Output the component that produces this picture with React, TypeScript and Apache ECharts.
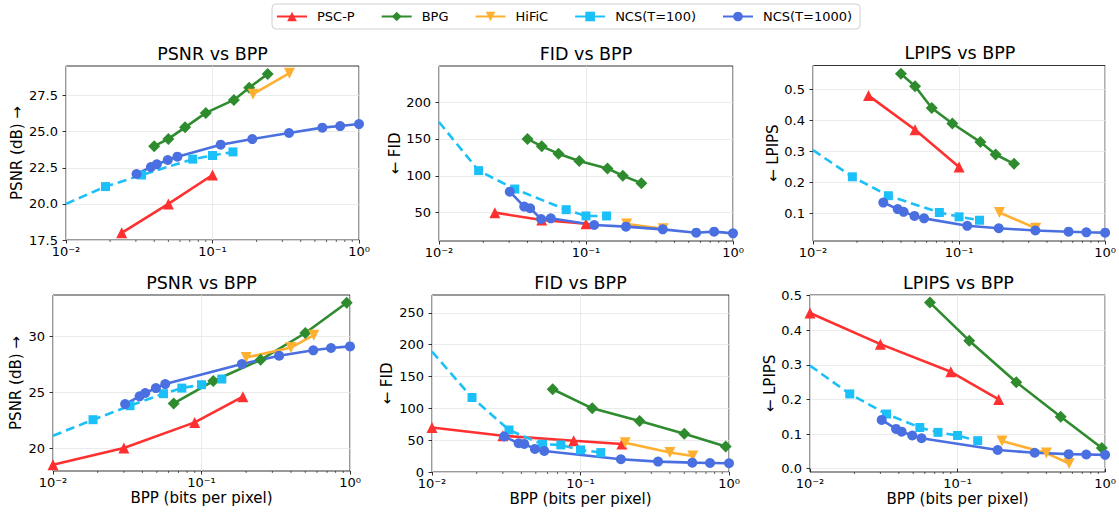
import React, { useEffect, useRef } from 'react';
import * as echarts from 'echarts';

// ---------------- DATA ----------------
const METHODS = ['PSC-P', 'BPG', 'HiFiC', 'NCS(T=100)', 'NCS(T=1000)'];

// Top row
const T_PSCP_BPP = [0.024, 0.05, 0.1];
const T_PSCP_PSNR = [18.0, 20.0, 22.0];
const T_PSCP_FID = [50, 40, 35];
const T_PSCP_LPIPS = [0.48, 0.37, 0.25];

const T_BPG_BPP = [0.04, 0.05, 0.065, 0.09, 0.14, 0.178, 0.238];
const T_BPG_PSNR = [24.0, 24.5, 25.3, 26.3, 27.2, 28.05, 29.0];
const T_BPG_FID = [150, 140, 130, 120, 110, 100, 90];
const T_BPG_LPIPS = [0.55, 0.51, 0.44, 0.39, 0.33, 0.29, 0.26];

const T_HIFIC_BPP = [0.189, 0.335];
const T_HIFIC_PSNR = [27.6, 29.05];
const T_HIFIC_FID = [34.5, 28];
const T_HIFIC_LPIPS = [0.103, 0.052];

const T_NCS100_BPP = [0.01, 0.0186, 0.0328, 0.0733, 0.1, 0.138];
const T_NCS100_PSNR = [20.0, 21.2, 22.0, 23.1, 23.35, 23.6];
const T_NCS100_FID = [173, 107, 82, 54, 45.5, 45.5];
const T_NCS100_LPIPS = [0.304, 0.218, 0.157, 0.103, 0.089, 0.078];

const T_NCS1000_BPP = [0.0303, 0.038, 0.0417, 0.0495, 0.0576, 0.1137, 0.187, 0.333, 0.562, 0.744, 1.0];
const T_NCS1000_PSNR = [22.07, 22.55, 22.74, 23.04, 23.27, 24.1, 24.49, 24.91, 25.28, 25.39, 25.53];
const T_NCS1000_FID = [78.5, 58.2, 55.9, 41.4, 42.3, 33.2, 31, 27.3, 22.8, 24.2, 21.9];
const T_NCS1000_LPIPS = [0.135, 0.114, 0.105, 0.092, 0.084, 0.06, 0.052, 0.045, 0.041, 0.039, 0.038];

// Bottom row
const B_PSCP_BPP = [0.01, 0.03, 0.09, 0.19];
const B_PSCP_PSNR = [18.5, 20.0, 22.3, 24.6];
const B_PSCP_FID = [70, 57, 49, 44];
const B_PSCP_LPIPS = [0.45, 0.36, 0.28, 0.2];

const B_BPG_BPP = [0.065, 0.12, 0.25, 0.5, 0.95];
const B_BPG_PSNR = [24.0, 26.0, 27.9, 30.3, 33.0];
const B_BPG_FID = [130, 100, 80, 60, 40];
const B_BPG_LPIPS = [0.48, 0.37, 0.25, 0.15, 0.06];

const B_HIFIC_BPP = [0.2, 0.4, 0.57];
const B_HIFIC_PSNR = [28.1, 29.0, 30.1];
const B_HIFIC_FID = [46, 30.5, 25];
const B_HIFIC_LPIPS = [0.08, 0.045, 0.015];

const B_NCS100_BPP = [0.01, 0.0186, 0.033, 0.0555, 0.0737, 0.1, 0.137];
const B_NCS100_PSNR = [21.1, 22.54, 23.79, 24.87, 25.37, 25.67, 26.18];
const B_NCS100_FID = [189, 117, 66, 43.6, 42.5, 34.7, 30.5];
const B_NCS100_LPIPS = [0.298, 0.216, 0.158, 0.119, 0.105, 0.096, 0.081];

const B_NCS1000_BPP = [0.0306, 0.0383, 0.0418, 0.0493, 0.057, 0.187, 0.333, 0.566, 0.745, 1.0];
const B_NCS1000_PSNR = [23.94, 24.63, 24.93, 25.37, 25.73, 27.52, 28.27, 28.75, 28.96, 29.1];
const B_NCS1000_FID = [55.7, 45.2, 44.1, 36.2, 33.1, 20, 16.3, 14.7, 14.2, 13.7];
const B_NCS1000_LPIPS = [0.141, 0.115, 0.107, 0.096, 0.088, 0.054, 0.046, 0.042, 0.041, 0.04];

// Tick values
const X_MIN = 0.01;
const X_MAX = 1;
const X_MINOR = [0.02, 0.03, 0.04, 0.05, 0.06, 0.07, 0.08, 0.09, 0.2, 0.3, 0.4, 0.5, 0.6, 0.7, 0.8, 0.9];
const Y_TICKS_T_PSNR = [17.5, 20.0, 22.5, 25.0, 27.5];
const Y_TICKS_T_FID = [50, 100, 150, 200];
const Y_TICKS_T_LPIPS = [0.1, 0.2, 0.3, 0.4, 0.5];
const Y_TICKS_B_PSNR = [20, 25, 30];
const Y_TICKS_B_FID = [0, 50, 100, 150, 200, 250];
const Y_TICKS_B_LPIPS = [0.0, 0.1, 0.2, 0.3, 0.4, 0.5];

// ---------------- STYLE ----------------
const FONT = 'DejaVu Sans';
const STYLE: Record<string, any> = {
  'PSC-P': { color: '#ff3030', symbol: 'triangle', size: 11, rotate: 0, dash: 'solid' },
  BPG: { color: '#2e8b2e', symbol: 'diamond', size: 12, rotate: 0, dash: 'solid' },
  HiFiC: { color: '#ffb030', symbol: 'triangle', size: 11, rotate: 180, dash: 'solid' },
  'NCS(T=100)': { color: '#1cc0f8', symbol: 'rect', size: 9, rotate: 0, dash: [9, 5] },
  'NCS(T=1000)': { color: '#4a6fe0', symbol: 'circle', size: 10, rotate: 0, dash: 'solid' },
};

const SUP: Record<string, string> = {
  '-': '⁻', '0': '⁰', '1': '¹', '2': '²', '3': '³', '4': '⁴', '5': '⁵', '6': '⁶', '7': '⁷', '8': '⁸', '9': '⁹',
};
const logLabel = (v: number) => {
  const e = Math.round(Math.log10(v));
  return '10' + String(e).split('').map((c) => SUP[c]).join('');
};

const fmt1 = (v: number) => v.toFixed(1);
const fmt0 = (v: number) => String(Math.round(v));

const PANELS = [
  {
    grid: { left: 66, top: 66, width: 293, height: 174 },
    title: 'PSNR vs BPP', yName: 'PSNR (dB) →', nameGap: 42,
    yMin: 17.5, yMax: 29.55, interval: 2.5, ticks: Y_TICKS_T_PSNR, fmt: fmt1, xName: '',
    series: [
      [T_PSCP_BPP, T_PSCP_PSNR], [T_BPG_BPP, T_BPG_PSNR], [T_HIFIC_BPP, T_HIFIC_PSNR],
      [T_NCS100_BPP, T_NCS100_PSNR], [T_NCS1000_BPP, T_NCS1000_PSNR],
    ],
  },
  {
    grid: { left: 439, top: 66, width: 294, height: 175 },
    title: 'FID vs BPP', yName: '← FID', nameGap: 37,
    yMin: 11.5, yMax: 249, interval: 50, ticks: Y_TICKS_T_FID, fmt: fmt0, xName: '',
    series: [
      [T_PSCP_BPP, T_PSCP_FID], [T_BPG_BPP, T_BPG_FID], [T_HIFIC_BPP, T_HIFIC_FID],
      [T_NCS100_BPP, T_NCS100_FID], [T_NCS1000_BPP, T_NCS1000_FID],
    ],
  },
  {
    grid: { left: 813, top: 65.5, width: 294, height: 175.5 },
    title: 'LPIPS vs BPP', yName: '← LPIPS', nameGap: 32,
    yMin: 0.011, yMax: 0.577, interval: 0.1, ticks: Y_TICKS_T_LPIPS, fmt: fmt1, xName: '',
    series: [
      [T_PSCP_BPP, T_PSCP_LPIPS], [T_BPG_BPP, T_BPG_LPIPS], [T_HIFIC_BPP, T_HIFIC_LPIPS],
      [T_NCS100_BPP, T_NCS100_LPIPS], [T_NCS1000_BPP, T_NCS1000_LPIPS],
    ],
  },
  {
    grid: { left: 53, top: 295, width: 297, height: 176 },
    title: 'PSNR vs BPP', yName: 'PSNR (dB) →', nameGap: 30,
    yMin: 17.95, yMax: 33.7, interval: 5, ticks: Y_TICKS_B_PSNR, fmt: fmt0, xName: 'BPP (bits per pixel)',
    series: [
      [B_PSCP_BPP, B_PSCP_PSNR], [B_BPG_BPP, B_BPG_PSNR], [B_HIFIC_BPP, B_HIFIC_PSNR],
      [B_NCS100_BPP, B_NCS100_PSNR], [B_NCS1000_BPP, B_NCS1000_PSNR],
    ],
  },
  {
    grid: { left: 432, top: 295, width: 297, height: 177 },
    title: 'FID vs BPP', yName: '← FID', nameGap: 38,
    yMin: 0, yMax: 278, interval: 50, ticks: Y_TICKS_B_FID, fmt: fmt0, xName: 'BPP (bits per pixel)',
    series: [
      [B_PSCP_BPP, B_PSCP_FID], [B_BPG_BPP, B_BPG_FID], [B_HIFIC_BPP, B_HIFIC_FID],
      [B_NCS100_BPP, B_NCS100_FID], [B_NCS1000_BPP, B_NCS1000_FID],
    ],
  },
  {
    grid: { left: 810, top: 295, width: 297, height: 177 },
    title: 'LPIPS vs BPP', yName: '← LPIPS', nameGap: 33,
    yMin: -0.0096, yMax: 0.502, interval: 0.1, ticks: Y_TICKS_B_LPIPS, fmt: fmt1, xName: 'BPP (bits per pixel)',
    series: [
      [B_PSCP_BPP, B_PSCP_LPIPS], [B_BPG_BPP, B_BPG_LPIPS], [B_HIFIC_BPP, B_HIFIC_LPIPS],
      [B_NCS100_BPP, B_NCS100_LPIPS], [B_NCS1000_BPP, B_NCS1000_LPIPS],
    ],
  },
];

function buildOption() {
  const grids: any[] = [];
  const xAxes: any[] = [];
  const yAxes: any[] = [];
  const series: any[] = [];
  const graphics: any[] = [];

  PANELS.forEach((p, i) => {
    grids.push({ ...p.grid, show: true, borderColor: '#000', borderWidth: 0.8, backgroundColor: 'transparent' });
    xAxes.push({
      type: 'log', logBase: 10, gridIndex: i, min: X_MIN, max: X_MAX,
      axisLine: { show: false },
      axisTick: { show: true, length: 3.5, lineStyle: { color: '#000', width: 0.8 } },
      axisLabel: { formatter: logLabel, fontFamily: FONT, fontSize: 13, fontWeight: 'normal', color: '#000', margin: 5 },
      splitLine: { show: true, lineStyle: { color: '#e6e6e6', width: 0.8 } },
      name: p.xName, nameLocation: 'middle', nameGap: 19,
      nameTextStyle: { fontFamily: FONT, fontSize: 15, fontWeight: 'normal', color: '#000' },
    });
    yAxes.push({
      type: 'value', gridIndex: i, min: p.yMin, max: p.yMax,
      minInterval: p.interval, maxInterval: p.interval,
      axisLine: { show: false },
      axisTick: { show: true, length: 3.5, lineStyle: { color: '#000', width: 0.8 }, customValues: p.ticks },
      axisLabel: {
        customValues: p.ticks, formatter: (v: number) => p.fmt(v),
        fontFamily: FONT, fontSize: 13, fontWeight: 'normal', color: '#000', margin: 8,
      },
      splitLine: { show: true, lineStyle: { color: '#e6e6e6', width: 0.8 } },
      name: p.yName, nameLocation: 'middle', nameGap: p.nameGap, nameRotate: 90,
      nameTextStyle: { fontFamily: FONT, fontSize: 15, fontWeight: 'normal', color: '#000' },
    });
    p.series.forEach(([xs, ys], k) => {
      const name = METHODS[k];
      const st = STYLE[name];
      series.push({
        type: 'line', name, xAxisIndex: i, yAxisIndex: i,
        data: xs.map((x: number, j: number) =>
          name === 'NCS(T=100)' && x <= X_MIN
            ? { value: [x, ys[j]], symbol: 'none' }
            : { value: [x, ys[j]] }
        ),
        symbol: st.symbol, symbolSize: st.size, symbolRotate: st.rotate, showSymbol: true,
        lineStyle: { color: st.color, width: 2.6, type: st.dash },
        itemStyle: { color: st.color },
        emphasis: { disabled: true },
        clip: true,
        z: 3,
      });
    });
    // minor ticks for the log x-axis
    series.push({
      type: 'custom', name: 'minor' + i, xAxisIndex: i, yAxisIndex: i, silent: true,
      data: X_MINOR.map((v) => [v, p.yMin]),
      renderItem: (params: any, api: any) => {
        const pt = api.coord([api.value(0), api.value(1)]);
        const cs = params.coordSys;
        const y = cs.y + cs.height;
        return {
          type: 'line',
          shape: { x1: pt[0], y1: y, x2: pt[0], y2: y + 2 },
          style: { stroke: '#000', lineWidth: 0.6 },
        };
      },
      z: 2,
    });
    graphics.push({
      type: 'text',
      x: p.grid.left + p.grid.width / 2,
      y: p.grid.top - 12.5,
      style: {
        text: p.title, fontFamily: FONT, fontSize: 17.5, fontWeight: 'normal', fill: '#000',
        align: 'center', verticalAlign: 'middle',
      },
    });
  });

  return {
    animation: false,
    backgroundColor: '#fff',
    textStyle: { fontFamily: FONT, fontWeight: 'normal' },
    grid: grids,
    xAxis: xAxes,
    yAxis: yAxes,
    series,
    graphic: graphics,
    legend: {
      data: METHODS.map((m) => ({ name: m, lineStyle: { type: 'solid' } })),
      left: 272, top: 4, orient: 'horizontal',
      itemWidth: 30, itemHeight: 12, itemGap: 26,
      padding: [6, 8, 6, 4],
      borderColor: '#d0d0d0', borderWidth: 1, borderRadius: 4, backgroundColor: '#fff',
      selectedMode: false,
      textStyle: { fontFamily: FONT, fontSize: 13, fontWeight: 'normal', color: '#000', padding: [0, 0, 0, 5] },
    },
  };
}

export default function App() {
  const ref = useRef<HTMLDivElement>(null);
  useEffect(() => {
    document.body.style.margin = '0';
    const chart = echarts.init(ref.current!, null, { renderer: 'svg' });
    chart.setOption(buildOption() as any);
    return () => chart.dispose();
  }, []);
  return <div ref={ref} style={{ width: 1119, height: 512 }} />;
}
